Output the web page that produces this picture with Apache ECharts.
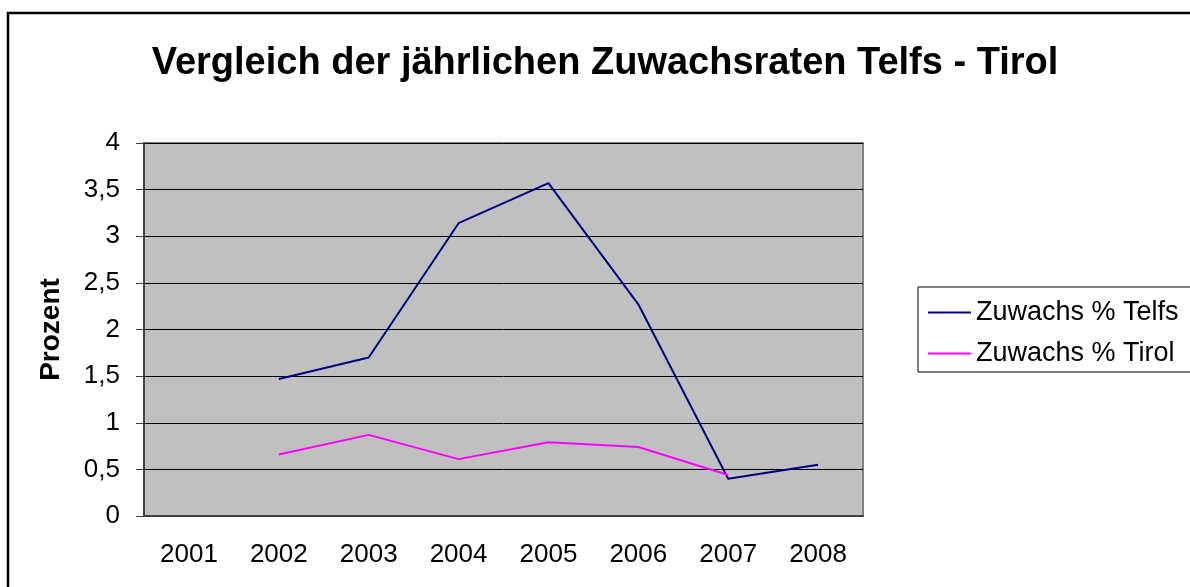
<!DOCTYPE html>
<html>
<head>
<meta charset="utf-8">
<script src="https://cdn.jsdelivr.net/npm/echarts@6/dist/echarts.min.js"></script>
<style>
  html, body { margin: 0; padding: 0; background: #fff; }
  #chart { width: 1190px; height: 587px; }
</style>
</head>
<body>
<div id="chart"></div>
<script>
const years = ['2001', '2002', '2003', '2004', '2005', '2006', '2007', '2008']
const telfs = [null, 1.47, 1.70, 3.14, 3.57, 2.27, 0.40, 0.55]
const tirol = [null, 0.66, 0.87, 0.61, 0.79, 0.74, 0.44, null]
const seriesNames = ['Zuwachs % Telfs', 'Zuwachs % Tirol']

const font = "'Liberation Sans', Arial, sans-serif"
const chart = echarts.init(document.getElementById('chart'))

chart.setOption({
  animation: false,
  textStyle: { fontFamily: font },
  graphic: [{
    type: 'rect',
    shape: { x: 8, y: 13, width: 1400, height: 800 },
    style: { fill: 'none', stroke: '#000', lineWidth: 2.5 },
    silent: true
  }],
  title: {
    text: 'Vergleich der jährlichen Zuwachsraten Telfs - Tirol',
    left: 600,
    textAlign: 'center',
    top: 40,
    textStyle: { fontFamily: font, fontSize: 38, fontWeight: 'bold', color: '#000', lineHeight: 38 }
  },
  legend: {
    orient: 'vertical',
    left: 918,
    top: 287,
    padding: [12, 12, 5, 10],
    borderColor: '#000',
    borderWidth: 1,
    itemWidth: 43,
    itemHeight: 2,
    itemGap: 14,
    data: seriesNames.map(n => ({ name: n, icon: 'rect' })),
    textStyle: { fontFamily: font, fontSize: 27, color: '#000', lineHeight: 27 }
  },
  grid: {
    left: 144,
    top: 143,
    width: 719,
    height: 373,
    show: true,
    backgroundColor: '#c0c0c0',
    borderColor: '#808080',
    borderWidth: 2
  },
  xAxis: {
    type: 'category',
    data: years,
    boundaryGap: true,
    axisLine: { lineStyle: { color: '#404040', width: 2 } },
    axisTick: { length: 9, lineStyle: { color: '#404040' } },
    axisLabel: { margin: 26, fontSize: 26, color: '#000', fontFamily: font }
  },
  yAxis: {
    type: 'value',
    min: 0,
    max: 4,
    interval: 0.5,
    name: 'Prozent',
    nameLocation: 'middle',
    nameRotate: 90,
    nameGap: 79,
    nameTextStyle: { fontFamily: font, fontSize: 28, fontWeight: 'bold', color: '#000' },
    axisLine: { show: true, lineStyle: { color: '#404040', width: 2 } },
    axisTick: { show: true, length: 8, lineStyle: { color: '#404040' } },
    axisLabel: {
      margin: 24,
      fontSize: 26,
      color: '#000',
      fontFamily: font,
      formatter: v => String(v).replace('.', ',')
    },
    splitLine: { show: true, lineStyle: { color: '#000', width: 1 } }
  },
  series: [
    {
      name: seriesNames[0],
      type: 'line',
      data: telfs,
      symbol: 'none',
      color: '#000080',
      lineStyle: { color: '#000080', width: 2 }
    },
    {
      name: seriesNames[1],
      type: 'line',
      data: tirol,
      symbol: 'none',
      color: '#ff00ff',
      lineStyle: { color: '#ff00ff', width: 2 }
    }
  ]
})
</script>
</body>
</html>
